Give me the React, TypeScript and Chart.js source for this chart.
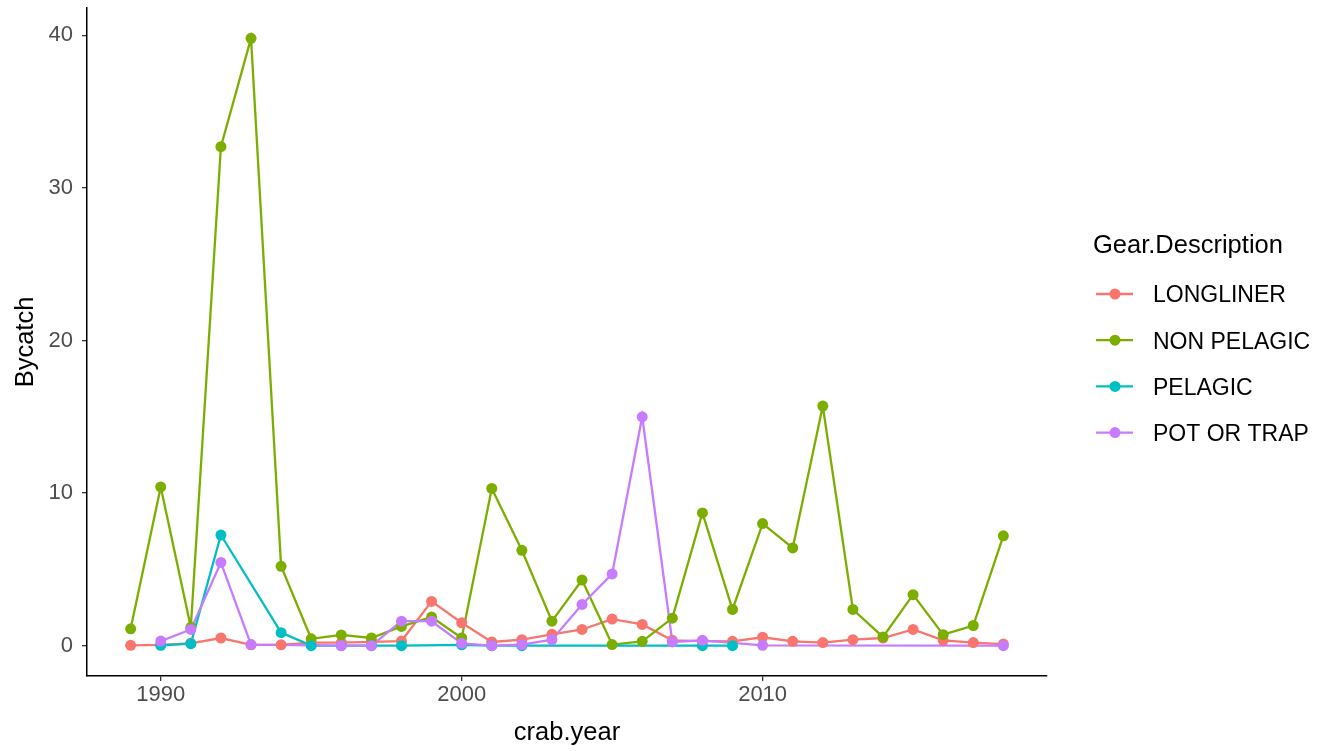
import React, { useEffect, useRef } from "react";
import { Chart, registerables } from "chart.js";
Chart.register(...registerables);

const seriesNames = ["LONGLINER", "NON PELAGIC", "PELAGIC", "POT OR TRAP"];
const seriesColors = ["#F8766D", "#7CAE00", "#00BFC4", "#C77CFF"];
const legendTitle = "Gear.Description";
const xTitle = "crab.year";
const yTitle = "Bycatch";

const longlinerYears = [1989, 1990, 1991, 1992, 1993, 1994, 1995, 1996, 1997, 1998, 1999, 2000, 2001, 2002, 2003, 2004, 2005, 2006, 2007, 2008, 2009, 2010, 2011, 2012, 2013, 2014, 2015, 2016, 2017, 2018];
const longlinerValues = [0.02, 0.05, 0.15, 0.5, 0.05, 0.05, 0.2, 0.2, 0.25, 0.3, 2.9, 1.5, 0.24, 0.39, 0.74, 1.06, 1.74, 1.39, 0.35, 0.3, 0.28, 0.55, 0.28, 0.2, 0.39, 0.5, 1.06, 0.35, 0.2, 0.1];

const nonPelagicYears = [1989, 1990, 1991, 1992, 1993, 1994, 1995, 1996, 1997, 1998, 1999, 2000, 2001, 2002, 2003, 2004, 2005, 2006, 2007, 2008, 2009, 2010, 2011, 2012, 2013, 2014, 2015, 2016, 2017, 2018];
const nonPelagicValues = [1.1, 10.4, 1.2, 32.7, 39.8, 5.2, 0.45, 0.7, 0.5, 1.26, 1.87, 0.5, 10.3, 6.25, 1.6, 4.3, 0.07, 0.28, 1.8, 8.7, 2.37, 8.0, 6.4, 15.7, 2.37, 0.57, 3.34, 0.72, 1.32, 7.2];

const pelagicYears = [1990, 1991, 1992, 1994, 1995, 1996, 1997, 1998, 2000, 2001, 2002, 2008, 2009];
const pelagicValues = [0.02, 0.13, 7.25, 0.85, 0, 0, 0, 0, 0.05, 0, 0, 0, 0];

const potYears = [1990, 1991, 1992, 1993, 1996, 1997, 1998, 1999, 2000, 2001, 2002, 2003, 2004, 2005, 2006, 2007, 2008, 2010, 2018];
const potValues = [0.3, 1.06, 5.45, 0.07, 0, 0, 1.6, 1.6, 0.15, 0, 0.07, 0.39, 2.7, 4.7, 15.0, 0.24, 0.35, 0.02, 0];

const xTicks = [1990, 2000, 2010];
const yTicks = [0, 10, 20, 30, 40];

const seriesYears = [longlinerYears, nonPelagicYears, pelagicYears, potYears];
const seriesValues = [longlinerValues, nonPelagicValues, pelagicValues, potValues];

const FONT = "'Liberation Sans', Arial, sans-serif";

const legendPlugin = {
  id: "ggLegend",
  afterDraw(chart: any) {
    const ctx = chart.ctx;
    const left = chart.chartArea.right + 45;
    ctx.save();
    ctx.textAlign = "left";
    ctx.textBaseline = "alphabetic";
    ctx.fillStyle = "#000";
    ctx.font = `25.5px ${FONT}`;
    ctx.fillText(legendTitle, left + 1, 253);
    seriesNames.forEach((name, i) => {
      const cy = 294 + i * 46.2;
      ctx.strokeStyle = seriesColors[i];
      ctx.lineWidth = 2.3;
      ctx.beginPath();
      ctx.moveTo(left + 4, cy);
      ctx.lineTo(left + 41, cy);
      ctx.stroke();
      ctx.fillStyle = seriesColors[i];
      ctx.beginPath();
      ctx.arc(left + 23, cy, 5.5, 0, Math.PI * 2);
      ctx.fill();
      ctx.fillStyle = "#000";
      ctx.font = `23px ${FONT}`;
      ctx.fillText(name, left + 61, cy + 8.3);
    });
    ctx.restore();
  },
};

export default function App() {
  const ref = useRef<HTMLCanvasElement | null>(null);
  useEffect(() => {
    if (!ref.current) return;
    const lineSets = seriesNames.map((name, i) => ({
      label: name,
      data: seriesYears[i].map((x, j) => ({ x, y: seriesValues[i][j] })),
      borderColor: seriesColors[i],
      backgroundColor: seriesColors[i],
      borderWidth: 2.3,
      pointRadius: 0,
      pointHoverRadius: 0,
      showLine: true,
      tension: 0,
      order: 7 - i,
    }));
    const pointSets = seriesNames.map((name, i) => ({
      label: name + " points",
      data: seriesYears[i].map((x, j) => ({ x, y: seriesValues[i][j] })),
      borderColor: seriesColors[i],
      backgroundColor: seriesColors[i],
      pointBackgroundColor: seriesColors[i],
      pointBorderColor: seriesColors[i],
      pointBorderWidth: 0,
      pointRadius: 5.5,
      showLine: false,
      order: 3 - i,
    }));
    const chart = new Chart(ref.current, {
      type: "line",
      data: { datasets: [...lineSets, ...pointSets] as any },
      options: {
        animation: false,
        responsive: false,
        devicePixelRatio: 1,
        layout: { padding: { left: 0, right: 288, top: 8, bottom: 0 } },
        plugins: { legend: { display: false }, tooltip: { enabled: false } },
        scales: {
          x: {
            type: "linear",
            min: 1987.55,
            max: 2019.45,
            afterBuildTicks: (s: any) => {
              s.ticks = xTicks.map((v) => ({ value: v }));
            },
            afterFit: (s: any) => {
              s.height = 75;
              s.paddingLeft = 0;
              s.paddingRight = 0;
            },
            ticks: {
              color: "#4D4D4D",
              font: { family: FONT, size: 22 },
              padding: 1,
              maxRotation: 0,
              callback: (v: any) => String(v),
            },
            grid: { drawOnChartArea: false, drawTicks: true, tickLength: 5, color: "#333333", lineWidth: 1.3 },
            border: { display: true, color: "#000000", width: 1.5 },
            title: { display: true, text: xTitle, color: "#000", font: { family: FONT, size: 25.5 }, padding: { top: 0, bottom: 3 } },
          },
          y: {
            type: "linear",
            min: -1.99,
            max: 41.79,
            afterBuildTicks: (s: any) => {
              s.ticks = yTicks.map((v) => ({ value: v }));
            },
            afterFit: (s: any) => {
              s.width = 87;
              s.paddingTop = 0;
              s.paddingBottom = 0;
            },
            ticks: {
              color: "#4D4D4D",
              font: { family: FONT, size: 22 },
              padding: 9,
              callback: (v: any) => String(v),
            },
            grid: { drawOnChartArea: false, drawTicks: true, tickLength: 5, color: "#333333", lineWidth: 1.3 },
            border: { display: true, color: "#000000", width: 1.5 },
            title: { display: true, text: yTitle, color: "#000", font: { family: FONT, size: 25.5 }, padding: { top: 11, bottom: 0 } },
          },
        },
      } as any,
      plugins: [legendPlugin],
    });
    return () => chart.destroy();
  }, []);
  return (
    <div style={{ position: "absolute", left: 0, top: 0, width: 1335, height: 751, background: "#fff" }}>
      <canvas ref={ref} width={1335} height={751} style={{ width: 1335, height: 751, display: "block" }} />
    </div>
  );
}
